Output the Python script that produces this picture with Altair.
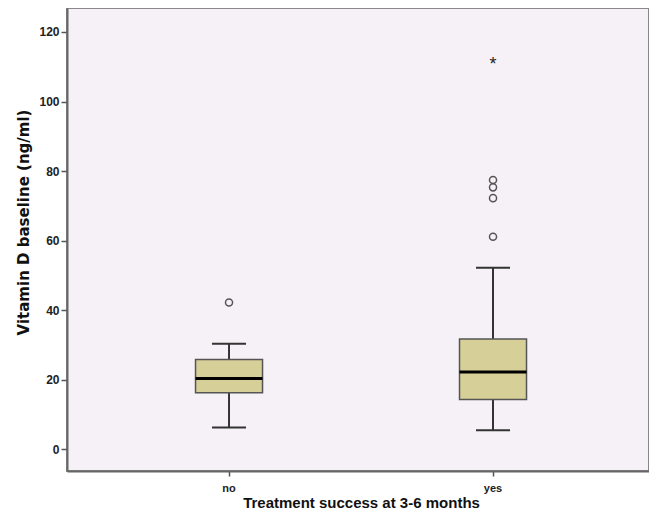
import altair as alt
import pandas as pd

groups = ["no", "yes"]
whisker_low = [6.2, 5.4]
q1 = [16.2, 14.3]
median = [20.3, 22.2]
q3 = [25.8, 31.7]
whisker_high = [30.3, 52.2]

outlier_group = ["no", "yes", "yes", "yes", "yes"]
outlier_value = [42.2, 61.1, 72.2, 75.3, 77.4]

extreme_group = ["yes"]
extreme_value = [111.9]

box = pd.DataFrame({"group": groups, "lo": whisker_low, "q1": q1, "med": median,
                    "q3": q3, "hi": whisker_high})
out = pd.DataFrame({"group": outlier_group, "v": outlier_value})
ext = pd.DataFrame({"group": extreme_group, "v": extreme_value})

xscale = alt.Scale(domain=groups, paddingInner=0, paddingOuter=0.1023, align=0.556)
yscale = alt.Scale(domain=[-6.3, 126.9], nice=False, zero=False)

xenc = alt.X("group:N", scale=xscale, title="Treatment success at 3-6 months",
             axis=alt.Axis(labelAngle=0, labelFont="Liberation Sans", labelFontSize=11,
                           labelFontWeight="bold", labelColor="#222",
                           titleFont="Liberation Sans", titleFontSize=15, titleFontWeight="bold",
                           titleColor="#111", labelPadding=6,
                           titleX=294, titleY=36, titleBaseline="alphabetic",
                           titleAlign="center",
                           tickSize=5, tickColor="#555", domainColor="#666", domainWidth=2,
                           tickWidth=1.5))
yaxis = alt.Axis(values=[0, 20, 40, 60, 80, 100, 120], grid=False,
                 labelFont="Liberation Sans", labelFontSize=12, labelFontWeight="bold",
                 labelColor="#222", titleFont="DejaVu Sans", titleFontSize=15,
                 titleFontWeight="bold", titleColor="#111",
                 titleX=-36, titleY=214, titleAngle=270, titleAlign="center",
                 titleBaseline="bottom",
                 tickSize=6, tickColor="#555", domainColor="#666", domainWidth=2,
                 tickWidth=1.5, labelPadding=2)

base = alt.Chart(box)

whisk = base.mark_rule(color="#333", strokeWidth=2, opacity=1).encode(
    x=xenc,
    y=alt.Y("lo:Q", scale=yscale, axis=yaxis, title="Vitamin D baseline (ng/ml)"),
    y2="hi:Q")

caps_lo = base.mark_tick(color="#333", size=34, thickness=2, orient="horizontal",
                         opacity=1).encode(x="group:N", y="lo:Q")
caps_hi = base.mark_tick(color="#333", size=34, thickness=2, orient="horizontal",
                         opacity=1).encode(x="group:N", y="hi:Q")

bars = base.mark_bar(size=67, color="#D6CF98", stroke="#555", strokeWidth=1.5,
                     opacity=1).encode(x="group:N", y="q1:Q", y2="q3:Q")

med = base.mark_tick(color="#000", size=67, thickness=3, orient="horizontal",
                     opacity=1).encode(x="group:N", y="med:Q")

pts = alt.Chart(out).mark_point(shape="circle", filled=False, size=50, color="#555",
                                strokeWidth=1.5, opacity=1).encode(x="group:N", y="v:Q")

star = alt.Chart(ext).mark_text(text="*", font="Liberation Sans", fontSize=18,
                                color="#222", dy=5).encode(x="group:N", y="v:Q")

chart = alt.layer(whisk, bars, caps_lo, caps_hi, med, pts, star).properties(
    width=582, height=463,
    autosize=alt.AutoSizeParams(type="none"),
    padding={"left": 59, "top": 0, "right": 0, "bottom": 38},
    background="white",
).configure_view(fill="#F6F1F6", stroke="#888", strokeWidth=2)

chart.save("out.html", embed_options={"renderer": "svg", "actions": False})
